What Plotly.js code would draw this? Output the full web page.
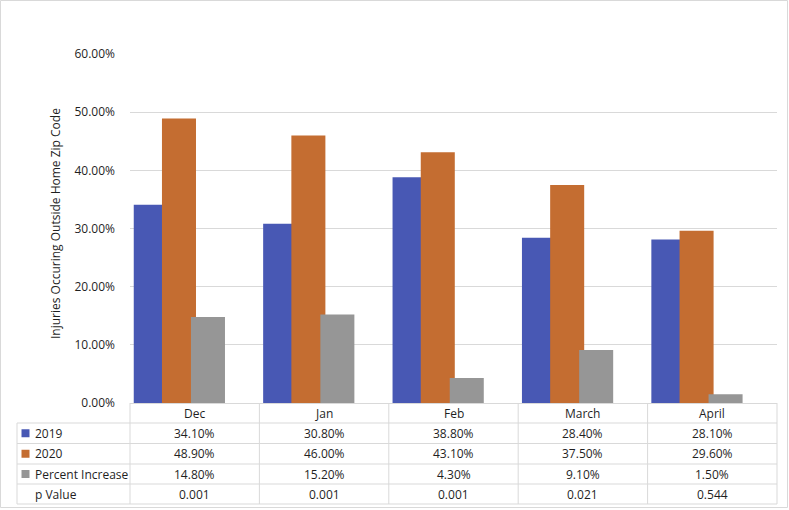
<!DOCTYPE html>
<html>
<head>
<meta charset="utf-8">
<script src="https://cdn.plot.ly/plotly-3.0.1.min.js"></script>
<style>html,body{margin:0;padding:0;background:#fff}#chart{width:789px;height:510px}</style>
</head>
<body>
<div id="chart"></div>
<script>
const categories = ['Dec', 'Jan', 'Feb', 'March', 'April'];
const seriesNames = ['2019', '2020', 'Percent Increase'];
const values2019 = [0.341, 0.308, 0.388, 0.284, 0.281];
const values2020 = [0.489, 0.460, 0.431, 0.375, 0.296];
const valuesIncrease = [0.148, 0.152, 0.043, 0.091, 0.015];
const pValueLabel = 'p Value';
const pValues = ['0.001', '0.001', '0.001', '0.021', '0.544'];
const yTitle = 'Injuries Occuring Outside Home Zip Code';

const colors = ['#4858B4', '#C46D31', '#969696'];
const seriesValues = [values2019, values2020, valuesIncrease];
const offsets = [-0.471, -0.253, -0.029];
const barWidth = 0.263;
const FONT = 'Open Sans, Lato, sans-serif';
const TXT = '#1f1f1f';
const GRID = '#d9d9d9';

const W = 789, H = 510;
const L = 130, R = 12, T = 54, B = 107;
const plotW = W - L - R, plotH = H - T - B;
const xp = px => (px - L) / plotW;
const yp = py => (H - B - py) / plotH;

const traces = seriesValues.map((vals, k) => ({
  type: 'bar',
  x: categories,
  y: vals,
  name: seriesNames[k],
  marker: {color: colors[k], line: {width: 0}},
  offset: offsets[k],
  width: barWidth,
  hoverinfo: 'x+y+name'
}));

const fmtPct = v => (v * 100).toFixed(2) + '%';

const shapes = [];
const annotations = [];
const rowLines = [403, 423, 443.5, 464, 484, 504];
const rowLabels = seriesNames.concat([pValueLabel]);
const rowTexts = seriesValues.map(vals => vals.map(fmtPct)).concat([pValues]);

// outer chart border
shapes.push({type: 'rect', xref: 'paper', yref: 'paper', x0: xp(0.5), x1: xp(787.5), y0: yp(0.5), y1: yp(507.5), line: {color: GRID, width: 1}});

// horizontal table lines
for (let r = 1; r < rowLines.length; r++) {
  shapes.push({type: 'line', xref: 'paper', yref: 'paper', x0: xp(17), x1: 1, y0: yp(rowLines[r]), y1: yp(rowLines[r]), line: {color: GRID, width: 1}});
}
// vertical category boundaries
for (let i = 0; i <= categories.length; i++) {
  shapes.push({type: 'line', xref: 'paper', yref: 'paper', x0: i / categories.length, x1: i / categories.length, y0: yp(403), y1: yp(504), line: {color: GRID, width: 1}});
}
// left edge of the table
shapes.push({type: 'line', xref: 'paper', yref: 'paper', x0: xp(17), x1: xp(17), y0: yp(423), y1: yp(504), line: {color: GRID, width: 1}});

// header
categories.forEach((c, i) => {
  annotations.push({xref: 'paper', yref: 'paper', x: (i + 0.5) / categories.length, y: yp(413), text: c, showarrow: false, xanchor: 'center', yanchor: 'middle', font: {family: FONT, size: 12, color: TXT}});
});
// rows
rowLabels.forEach((lab, r) => {
  const yc = (rowLines[r + 1] + rowLines[r + 2]) / 2;
  annotations.push({xref: 'paper', yref: 'paper', x: xp(33), y: yp(yc), text: lab, showarrow: false, xanchor: 'left', yanchor: 'middle', font: {family: FONT, size: 12, color: TXT}});
  if (r < colors.length) {
    shapes.push({type: 'rect', xref: 'paper', yref: 'paper', x0: xp(21.5), x1: xp(29.5), y0: yp(yc - 4), y1: yp(yc + 4), fillcolor: colors[r], line: {width: 0}});
  }
  rowTexts[r].forEach((t, i) => {
    annotations.push({xref: 'paper', yref: 'paper', x: (i + 0.5) / categories.length, y: yp(yc), text: t, showarrow: false, xanchor: 'center', yanchor: 'middle', font: {family: FONT, size: 12, color: TXT}});
  });
});
// y title
annotations.push({xref: 'paper', yref: 'paper', x: xp(55), y: yp(224), text: yTitle, textangle: -90, showarrow: false, xanchor: 'center', yanchor: 'middle', font: {family: FONT, size: 12, color: TXT}});

const layout = {
  width: W, height: H,
  margin: {l: L, r: R, t: T, b: B, pad: 0},
  paper_bgcolor: '#fff', plot_bgcolor: '#fff',
  barmode: 'overlay',
  showlegend: false,
  font: {family: FONT, size: 12, color: TXT},
  xaxis: {type: 'category', range: [-0.5, 4.5], showticklabels: false, ticks: '', showgrid: false, zeroline: false, showline: true, linecolor: GRID, linewidth: 1, fixedrange: true},
  yaxis: {range: [0, 0.6], dtick: 0.1, tick0: 0, tickformat: '.2%', showgrid: true, gridcolor: GRID, gridwidth: 1, zeroline: false, showline: false, ticks: '', ticklabelstandoff: 14, tickfont: {family: FONT, size: 12, color: TXT}, fixedrange: true},
  shapes: shapes,
  annotations: annotations
};

Plotly.newPlot('chart', traces, layout, {displayModeBar: false, staticPlot: true});
</script>
</body>
</html>
